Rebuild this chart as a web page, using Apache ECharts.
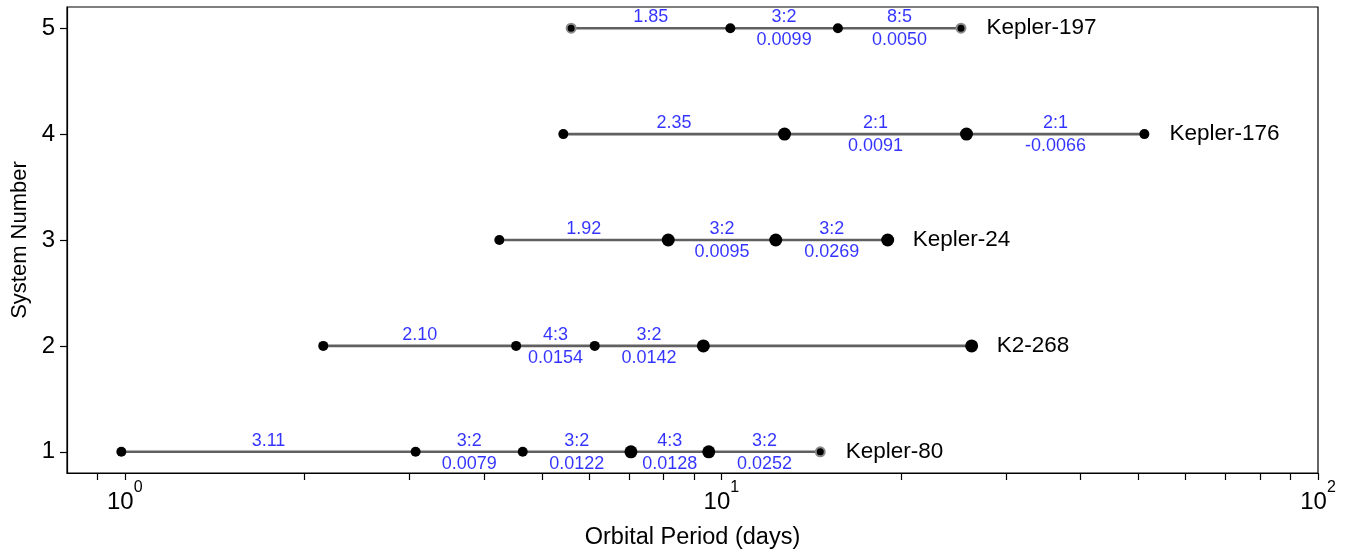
<!DOCTYPE html>
<html>
<head>
<meta charset="utf-8">
<script src="https://cdn.jsdelivr.net/npm/echarts@6/dist/echarts.min.js"></script>
<style>
  html, body { margin: 0; padding: 0; background: #fff; }
  #main { width: 1361px; height: 552px; }
</style>
</head>
<body>
<div id="main"></div>
<script>
// system names, bottom (1) to top (5)
var systemNames = ['Kepler-80', 'K2-268', 'Kepler-24', 'Kepler-176', 'Kepler-197'];

// orbital periods (days) per system
var periodsKepler80  = [0.9867, 3.0722, 4.6449, 7.0525, 9.5232, 14.6456];
var periodsK2268     = [2.151, 4.528, 6.133, 9.327, 26.27];
var periodsKepler24  = [4.244, 8.145, 12.333, 18.998];
var periodsKepler176 = [5.433, 12.759, 25.752, 51.165];
var periodsKepler197 = [5.599, 10.35, 15.677, 25.209];

// period ratio / resonance labels between neighbours (above the line)
var ratioKepler80  = ['3.11', '3:2', '3:2', '4:3', '3:2'];
var ratioK2268     = ['2.10', '4:3', '3:2', ''];
var ratioKepler24  = ['1.92', '3:2', '3:2'];
var ratioKepler176 = ['2.35', '2:1', '2:1'];
var ratioKepler197 = ['1.85', '3:2', '8:5'];

// offset from resonance (below the line)
var offsetKepler80  = ['', '0.0079', '0.0122', '0.0128', '0.0252'];
var offsetK2268     = ['', '0.0154', '0.0142', ''];
var offsetKepler24  = ['', '0.0095', '0.0269'];
var offsetKepler176 = ['', '0.0091', '-0.0066'];
var offsetKepler197 = ['', '0.0099', '0.0050'];

// axis ticks
var xMajorTicks = [1, 10, 100];
var xMinorTicks = [0.9, 2, 3, 4, 5, 6, 7, 8, 9, 20, 30, 40, 50, 60, 70, 80, 90];
var yTicks = [1, 2, 3, 4, 5];

var allPeriods = [periodsKepler80, periodsK2268, periodsKepler24, periodsKepler176, periodsKepler197];
var allRatios = [ratioKepler80, ratioK2268, ratioKepler24, ratioKepler176, ratioKepler197];
var allOffsets = [offsetKepler80, offsetK2268, offsetKepler24, offsetKepler176, offsetKepler197];

// marker styling (size class per planet, ringed markers)
var bigMarker = [
    [0, 0, 0, 1, 1, 0],
    [0, 0, 0, 1, 1],
    [0, 1, 1, 1],
    [0, 1, 1, 0],
    [0, 0, 0, 0]
];
var ringMarker = [
    [0, 0, 0, 0, 0, 1],
    [0, 0, 0, 0, 0],
    [0, 0, 0, 0],
    [0, 0, 0, 0],
    [1, 0, 0, 1]
];

var FONT = 'Liberation Sans, Arial, Helvetica, sans-serif';

var myChart = echarts.init(document.getElementById('main'));

var series = [];
var ratioPts = [];
var offsetPts = [];

allPeriods.forEach(function (periods, i) {
    var sys = i + 1;
    var data = periods.map(function (p, j) {
        var size = bigMarker[i][j] ? 13 : 10;
        var item = { value: [p, sys], symbolSize: size };
        if (ringMarker[i][j]) {
            item.symbolSize = 9;
            item.itemStyle = { color: '#000', borderColor: '#8a8a8a', borderWidth: 2 };
        }
        if (j === periods.length - 1) {
            item.label = {
                show: true,
                position: 'right',
                distance: 25 - size / 2,
                formatter: systemNames[i],
                color: '#000',
                fontSize: 22.5,
                fontFamily: FONT
            };
        }
        return item;
    });
    series.push({
        type: 'line',
        data: data,
        symbol: 'circle',
        showSymbol: true,
        lineStyle: { color: '#606060', width: 2.6 },
        itemStyle: { color: '#000' },
        emphasis: { disabled: true },
        animation: false,
        z: 3
    });
    for (var j = 0; j < periods.length - 1; j++) {
        var mid = Math.sqrt(periods[j] * periods[j + 1]);
        if (allRatios[i][j]) ratioPts.push({ value: [mid, sys], name: allRatios[i][j] });
        if (allOffsets[i][j]) offsetPts.push({ value: [mid, sys], name: allOffsets[i][j] });
    }
});

series.push({
    type: 'scatter',
    data: ratioPts,
    symbolSize: 0,
    silent: true,
    animation: false,
    label: {
        show: true, position: 'top', distance: 2,
        formatter: function (p) { return p.name; },
        color: '#0000ff', fontSize: 18, fontFamily: FONT
    },
    z: 4
});
series.push({
    type: 'scatter',
    data: offsetPts,
    symbolSize: 0,
    silent: true,
    animation: false,
    label: {
        show: true, position: 'bottom', distance: 3,
        formatter: function (p) { return p.name; },
        color: '#0000ff', fontSize: 18, fontFamily: FONT
    },
    z: 4
});

var option = {
    backgroundColor: '#fff',
    animation: false,
    grid: {
        left: 67, right: 43, top: 7, bottom: 79,
        containLabel: false,
        outerBoundsMode: 'none',
        show: true, borderColor: '#000', borderWidth: 1.2
    },
    xAxis: {
        type: 'log',
        logBase: 10,
        min: 0.8,
        max: 100,
        name: 'Orbital Period (days)',
        nameLocation: 'middle',
        nameGap: 53,
        nameTextStyle: { color: '#000', fontSize: 23.5, fontFamily: FONT },
        axisLine: { show: true, lineStyle: { color: '#000', width: 1.2 } },
        axisTick: {
            show: true, length: 7,
            customValues: xMajorTicks.concat(xMinorTicks),
            lineStyle: { color: '#000', width: 1.2 }
        },
        axisLabel: {
            customValues: xMajorTicks,
            margin: 7,
            formatter: function (v) {
                return '{b|10}{s|' + Math.round(Math.log10(v)) + '}';
            },
            rich: {
                b: { fontSize: 24, lineHeight: 34, verticalAlign: 'bottom', color: '#000', fontFamily: FONT },
                s: { fontSize: 16, lineHeight: 14, verticalAlign: 'top', color: '#000', fontFamily: FONT }
            }
        },
        splitLine: { show: false },
        minorTick: { show: false }
    },
    yAxis: {
        type: 'value',
        min: 0.8,
        max: 5.2,
        name: 'System Number',
        nameLocation: 'middle',
        nameGap: 34,
        nameTextStyle: { color: '#000', fontSize: 22, fontFamily: FONT },
        axisLine: { show: true, lineStyle: { color: '#000', width: 1.2 } },
        axisTick: {
            show: true, length: 7,
            customValues: yTicks,
            lineStyle: { color: '#000', width: 1.2 }
        },
        axisLabel: {
            customValues: yTicks,
            margin: 12,
            color: '#000', fontSize: 24, fontFamily: FONT
        },
        splitLine: { show: false }
    },
    series: series
};

myChart.setOption(option);
</script>
</body>
</html>
